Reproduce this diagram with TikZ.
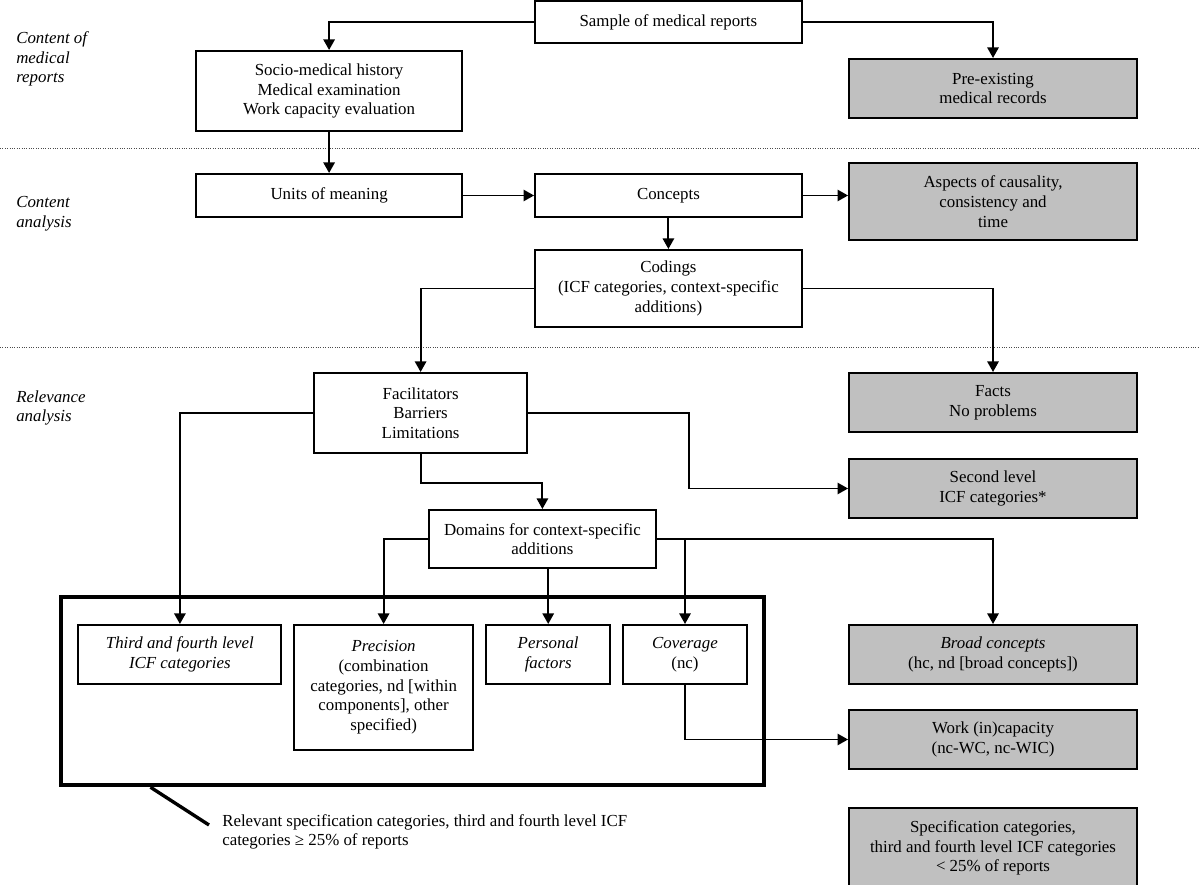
\documentclass[tikz,border=0pt]{standalone}
\usepackage{fontspec}
\setmainfont{Liberation Serif}
\usepackage{tikz}
\usetikzlibrary{arrows.meta, positioning, calc}
\definecolor{shade}{RGB}{192,192,192}
\tikzset{
  block/.style={rectangle, draw=black, line width=1.4pt, fill=white,
                align=center, inner sep=0pt,
                font=\fontsize{12}{14}\selectfont},
  result/.style={block, fill=shade, minimum width=7.195cm},
  arrow/.style={-{Triangle[length=7.5pt, width=8pt]}, line width=1.4pt},
  phase/.style={anchor=west, align=left, inner sep=0pt,
                font=\fontsize{12}{14}\selectfont\itshape},
  divider/.style={densely dotted, line width=0.7pt, color=black!70},
}

\begin{document}
\begin{tikzpicture}[x=0.025cm, y=-0.025cm]
  \useasboundingbox (0,0) rectangle (1200,885);

  % Phases
  \node[phase] (lblreports) at (16,59) {Content of\\medical\\reports};
  \node[phase] (lblcontent) at (16,214) {Content\\analysis};
  \node[phase] (lblrelevance) at (16,408) {Relevance\\analysis};
  \draw[divider] (0,148) -- (1200,148);
  \draw[divider] (0,347) -- (1200,347);

  % Content of medical reports
  \node[block, minimum width=6.665cm, minimum height=1.05cm]
    (sample) at (668.4,22) {Sample of medical reports};
  \node[block, minimum width=6.655cm, minimum height=2cm]
    (history) at (329.1,91)
    {Socio-medical history\\Medical examination\\Work capacity evaluation};
  \node[result, minimum height=1.475cm]
    (records) at (993,88.5) {Pre-existing\\medical records};

  % Content analysis
  \node[block, minimum width=6.655cm, minimum height=1.075cm]
    (units) at (329.1,195.5) {Units of meaning};
  \node[block, minimum width=6.665cm, minimum height=1.075cm]
    (concepts) at (668.4,195.5) {Concepts};
  \node[result, minimum height=1.925cm]
    (aspects) at (993,201.5) {Aspects of causality,\\consistency and\\time};
  \node[block, minimum width=6.665cm, minimum height=1.925cm]
    (codings) at (668.4,288.5)
    {Codings\\(ICF categories, context-specific\\additions)};

  % Relevance analysis
  \node[block, minimum width=5.34cm, minimum height=2cm]
    (facil) at (420.6,413) {Facilitators\\Barriers\\Limitations};
  \node[result, minimum height=1.475cm]
    (facts) at (993,402.5) {Facts\\No problems};
  \node[result, minimum height=1.475cm, below=0.625cm of facts]
    (second) {Second level\\ICF categories*};
  \node[block, minimum width=5.655cm, minimum height=1.45cm]
    (domains) at (542.4,539) {Domains for context-specific\\additions};

  % Relevant categories
  \node[draw, line width=2.8pt, minimum width=17.55cm, minimum height=4.71cm,
        inner sep=0pt] (frame) at (412.5,691) {};
  \node[block, minimum width=5.07cm, minimum height=1.475cm]
    (third) at (179.9,654.5) {\textit{Third and fourth level}\\\textit{ICF categories}};
  \node[block, minimum width=4.49cm, minimum height=3.125cm]
    (precision) at (383.6,687.5)
    {\textit{Precision}\\(combination\\categories, nd [within\\components], other\\specified)};
  \node[block, minimum width=3.11cm, minimum height=1.475cm]
    (personal) at (548.2,654.5) {\textit{Personal}\\\textit{factors}};
  \node[block, minimum width=3.1cm, minimum height=1.475cm]
    (coverage) at (685,654.5) {\textit{Coverage}\\(nc)};
  \node[result, minimum height=1.475cm]
    (broad) at (993,654.5) {\textit{Broad concepts}\\(hc, nd [broad concepts])};
  \node[result, minimum height=1.475cm, below=0.6cm of broad]
    (work) {Work (in)capacity\\(nc-WC, nc-WIC)};
  \node[result, minimum height=2cm, below=0.925cm of work] (spec)
    {Specification categories,\\third and fourth level ICF categories\\< 25\% of reports};
  \node[anchor=west, align=left, inner sep=0pt,
        font=\fontsize{12}{14}\selectfont] (note) at (222,832)
    {Relevant specification categories, third and fourth level ICF\\categories ≥ 25\% of reports};
  \draw[line width=2.4pt] ($(frame.south west)+(91,0)$) -- ($(note.west)+(-13,-7)$);

  % Connectors
  \draw[arrow] (sample.west) -| (history.north);
  \draw[arrow] (sample.east) -| (records.north);
  \draw[arrow] (history.south) -- (units.north);
  \draw[arrow] (units.east) -- (concepts.west);
  \draw[arrow] (concepts.east) -- (concepts.east -| aspects.west);
  \draw[arrow] (concepts.south) -- (codings.north);
  \draw[arrow] (codings.west) -| (facil.north);
  \draw[arrow] (codings.east) -| (facts.north);
  \draw[arrow] (facil.west) -| (third.north);
  \draw[arrow] (facil.east) -- ++(161,0) |- (second.west);
  \draw[arrow] (facil.south) -- ++(0,29) -| (domains.north);
  \draw[arrow] (domains.west) -| (precision.north);
  \draw[arrow] (personal.north |- domains.south) -- (personal.north);
  \draw[arrow] (domains.east) -| (broad.north);
  \draw[arrow] (domains.east -| coverage.north) -- (coverage.north);
  \draw[arrow] (coverage.south) |- (work.west);
\end{tikzpicture}
\end{document}
